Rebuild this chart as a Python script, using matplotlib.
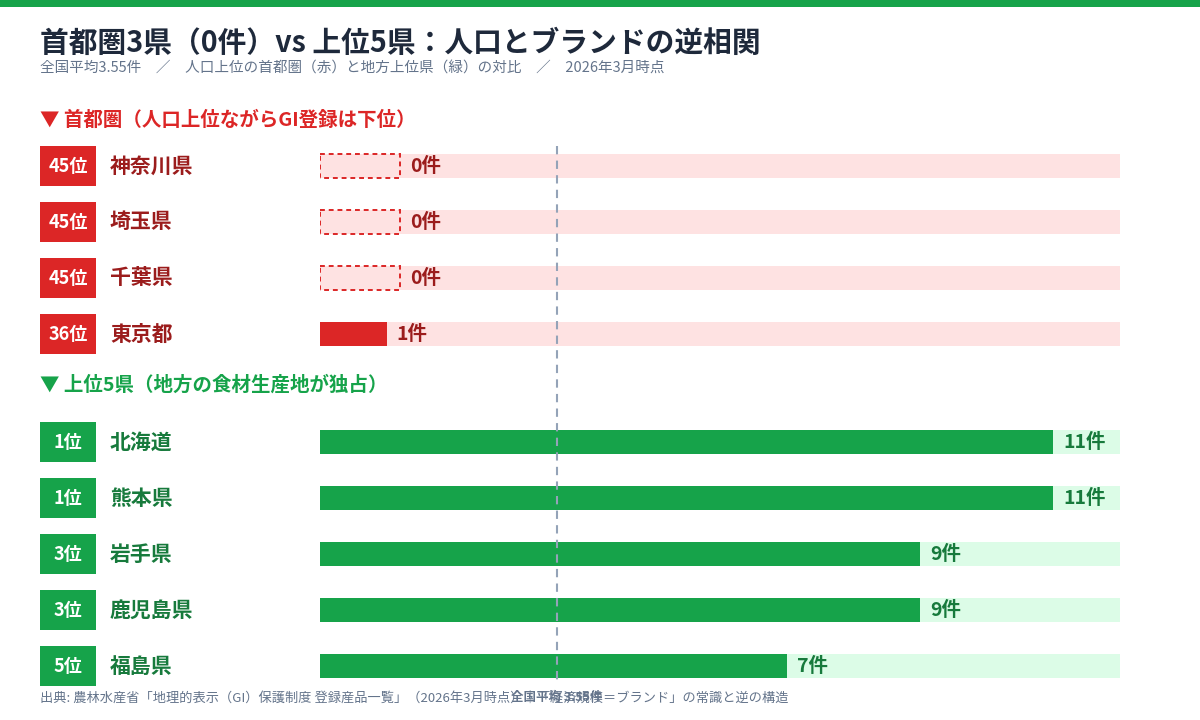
"""首都圏3県 vs 上位5県 GI登録件数の比較チャート"""

import matplotlib
matplotlib.use('Agg')
import matplotlib.pyplot as plt
from matplotlib.patches import Rectangle

plt.rcParams['font.family'] = ['Noto Sans CJK JP', 'DejaVu Sans']

# データ
capital_names = ['神奈川県', '埼玉県', '千葉県', '東京都']
capital_ranks = ['45位', '45位', '45位', '36位']
capital_counts = [0, 0, 0, 1]

top_names = ['北海道', '熊本県', '岩手県', '鹿児島県', '福島県']
top_ranks = ['1位', '1位', '3位', '3位', '5位']
top_counts = [11, 11, 9, 9, 7]

national_avg = 3.55
x_max = 12

title = '首都圏3県（0件）vs 上位5県：人口とブランドの逆相関'
subtitle = '全国平均3.55件\u3000／\u3000人口上位の首都圏（赤）と地方上位県（緑）の対比\u3000／\u30002026年3月時点'
capital_header = '▼ 首都圏（人口上位ながらGI登録は下位）'
top_header = '▼ 上位5県（地方の食材生産地が独占）'
source = '出典: 農林水産省「地理的表示（GI）保護制度 登録産品一覧」（2026年3月時点）｜「経済規模＝ブランド」の常識と逆の構造'

# 色
RED = '#dc2626'
RED_DARK = '#9b1c1c'
RED_BG = '#fee2e2'
GREEN = '#16a34a'
GREEN_DARK = '#177a3c'
GREEN_BG = '#dcfce7'
GRAY = '#64748b'

W, H = 1200, 720
fig = plt.figure(figsize=(12, 7.2), dpi=100)

# 上部のストライプ
fig.add_artist(Rectangle((0, 1 - 7 / H), 1, 7 / H, transform=fig.transFigure,
                         color=GREEN, lw=0))

fig.text(40 / W, 1 - 43 / H, title, fontsize=20.7, fontweight='bold', color='#1e293b',
         va='center', ha='left')
fig.text(40 / W, 1 - 69 / H, subtitle, fontsize=10.5, color=GRAY, va='center', ha='left')
fig.text(40 / W, 1 - 698 / H, source, fontsize=9.5, color=GRAY, va='center', ha='left')

# 行の位置（1行 = 56px）
row_px = 56
top_px, bot_px = 138, 694
ax = fig.add_axes([320 / W, 1 - bot_px / H, 800 / W, (bot_px - top_px) / H])
ax.set_xlim(0, x_max)
ax.set_ylim((bot_px - 166) / row_px, (top_px - 166) / row_px)
ax.axis('off')

gap = 0.93
capital_pos = list(range(len(capital_names)))
top_pos = [len(capital_names) + gap + i for i in range(len(top_names))]

px = x_max / 800  # 1pxあたりのデータ単位
bar_h = 24 / row_px
box_h = 40 / row_px
box_x = (40 - 320) * px
box_w = 56 * px
name_x = (110 - 320) * px
zero_w = 80 * px


def draw_group(positions, names, ranks, counts, main, dark, bg):
    ax.barh(positions, [x_max] * len(positions), height=bar_h, color=bg, lw=0, zorder=1)
    for y, name, rank, v in zip(positions, names, ranks, counts):
        ax.add_patch(Rectangle((box_x, y - box_h / 2), box_w, box_h, color=main,
                               clip_on=False, lw=0))
        ax.text(box_x + box_w / 2, y, rank, color='white', fontsize=13, fontweight='bold',
                ha='center', va='center', clip_on=False)
        ax.text(name_x, y, name, color=dark, fontsize=15, fontweight='bold',
                ha='left', va='center', clip_on=False)
        if v == 0:
            ax.add_patch(Rectangle((0, y - bar_h / 2), zero_w, bar_h, facecolor=bg,
                                   edgecolor=main, lw=1.4, ls=(0, (2.5, 2)), zorder=2))
            end = zero_w
        else:
            ax.barh(y, v, height=bar_h, color=main, lw=0, zorder=2)
            end = v
        ax.text(end + 10 * px, y, f'{v}件', color=dark, fontsize=14, fontweight='bold',
                ha='left', va='center', zorder=4)


draw_group(capital_pos, capital_names, capital_ranks, capital_counts, RED, RED_DARK, RED_BG)
draw_group(top_pos, top_names, top_ranks, top_counts, GREEN, GREEN_DARK, GREEN_BG)

# セクション見出し
ax.text(box_x, (120 - 166) / row_px, capital_header, color=RED, fontsize=14,
        fontweight='bold', ha='left', va='center', clip_on=False)
ax.text(box_x, (385 - 166) / row_px, top_header, color=GREEN, fontsize=14,
        fontweight='bold', ha='left', va='center', clip_on=False)

# 全国平均ライン
ax.vlines(national_avg, (146 - 166) / row_px, (680 - 166) / row_px, colors='#94a3b8',
          linestyles=(0, (4, 3)), lw=1.5, zorder=3)
ax.text(national_avg, (697 - 166) / row_px, f'全国平均 {national_avg}件', color=GRAY,
        fontsize=9, fontweight='bold', ha='center', va='center', clip_on=False)

fig.savefig('out.png', dpi=100)
